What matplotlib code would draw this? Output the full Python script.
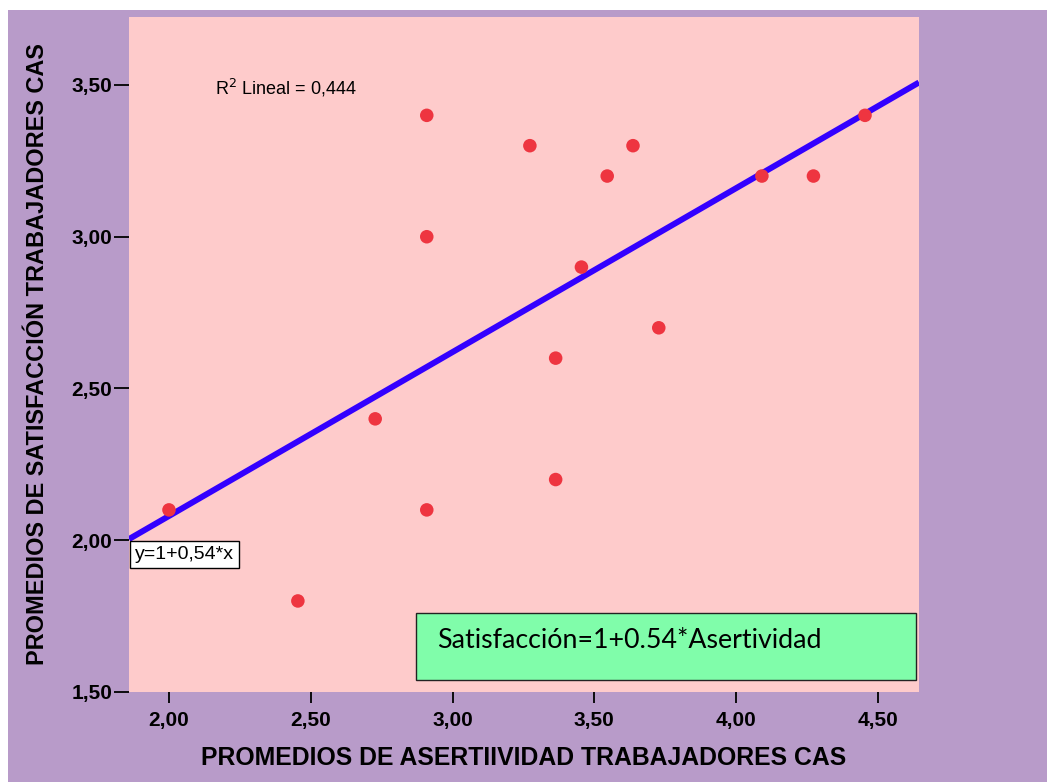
import numpy as np
import matplotlib.pyplot as plt
from matplotlib.patches import Rectangle

# puntajes promedio por trabajador
asertividad = [22/11, 27/11, 30/11, 32/11, 32/11, 32/11, 36/11, 37/11, 37/11,
               38/11, 39/11, 40/11, 41/11, 45/11, 47/11, 49/11]
satisfaccion = [2.1, 1.8, 2.4, 3.4, 3.0, 2.1, 3.3, 2.6, 2.2,
                2.9, 3.2, 3.3, 2.7, 3.2, 3.2, 3.4]
intercepto = 1.0
pendiente = 0.54
r2 = "0,444"

xticks = [2.0, 2.5, 3.0, 3.5, 4.0, 4.5]
yticks = [1.5, 2.0, 2.5, 3.0, 3.5]

W, H = 1047, 782
fig = plt.figure(figsize=(W / 100, H / 100), dpi=100)
fig.patch.set_facecolor("white")
fig.add_artist(Rectangle((8 / W, 0), 1 - 8 / W, (H - 10) / H,
                         transform=fig.transFigure, facecolor="#b89bc9",
                         edgecolor="none", zorder=0))

ax = fig.add_axes([129 / W, 1 - 692 / H, 790 / W, 675 / H])
ax.set_facecolor("#fecbcb")
for s in ax.spines.values():
    s.set_visible(False)

ax.set_xlim(1.859, 4.645)
ax.set_ylim(1.5, 3.724)

xs = np.array(ax.get_xlim())
ax.plot(xs, intercepto + pendiente * xs, color="#3300ff", lw=4.3,
        solid_capstyle="butt", zorder=3)
ax.scatter(asertividad, satisfaccion, s=95, color="#ee3540",
           edgecolors="none", zorder=4)

ax.set_xticks(xticks)
ax.set_yticks(yticks)
ax.set_xticklabels([f"{v:.2f}".replace(".", ",") for v in xticks])
ax.set_yticklabels([f"{v:.2f}".replace(".", ",") for v in yticks])
ax.tick_params(axis="x", length=8, width=1.3, color="black", labelsize=15, pad=6)
ax.tick_params(axis="y", length=11, width=1.3, color="black", labelsize=15, pad=1)
for lab in ax.get_xticklabels() + ax.get_yticklabels():
    lab.set_fontweight("bold")
    lab.set_family("Liberation Sans")

ax.set_xlabel("PROMEDIOS DE ASERTIIVIDAD TRABAJADORES CAS",
              fontsize=17.8, fontweight="bold", family="Liberation Sans",
              labelpad=11)
ax.set_ylabel("PROMEDIOS DE SATISFACCIÓN TRABAJADORES CAS",
              fontsize=16.9, fontweight="bold", family="Liberation Sans",
              labelpad=16)

ax.text((215 - 129) / 790, (692 - 88) / 675, "R$^2$ Lineal = " + r2,
        transform=ax.transAxes, fontsize=13, family="Liberation Sans",
        va="center", ha="left")

ax.text(0.008, intercepto + pendiente * 1.859 - 0.022, "y=1+0,54*x",
        transform=ax.get_yaxis_transform(), fontsize=14,
        family="Liberation Sans", va="top", ha="left",
        bbox=dict(boxstyle="square,pad=0.25", facecolor="white",
                  edgecolor="black", lw=1))

ax.add_patch(Rectangle(((416 - 129) / 790, (692 - 680) / 675),
                       500 / 790, 67 / 675, transform=ax.transAxes,
                       facecolor="#80fdaa", edgecolor="#222222", lw=1,
                       zorder=5))
ax.text((437 - 129) / 790, (692 - 641) / 675,
        "Satisfacción=1+0.54*Asertividad", transform=ax.transAxes,
        fontsize=19.3, family="Lato", va="center", ha="left", zorder=6)

fig.savefig("out.png", dpi=100, facecolor=fig.get_facecolor())
